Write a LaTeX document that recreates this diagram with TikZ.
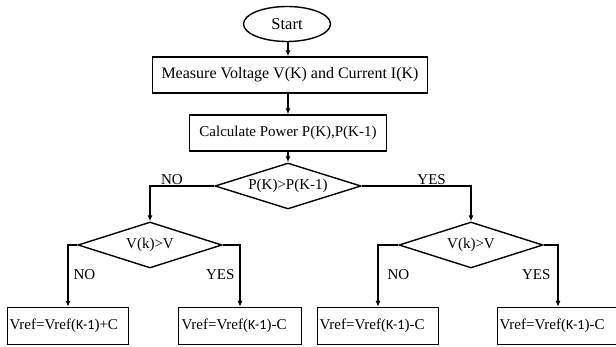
\documentclass[tikz,border=0pt]{standalone}
\usepackage{fontspec}
\setmainfont{Liberation Serif}
\newfontfamily\kfont{Carlito}
\usetikzlibrary{shapes.geometric,arrows.meta}

\newcommand{\km}{{\kfont\fontsize{14}{16}\selectfont K-1}}

\begin{document}
\begin{tikzpicture}[x=1pt,y=-1pt,
    every node/.style={font=\fontsize{15}{18}\selectfont},
    box/.style={draw,line width=1.4pt,inner sep=0pt,minimum height=36pt},
    outbox/.style={box,minimum width=121pt,minimum height=37pt,text width=117pt,inner xsep=2pt,align=left},
    dec/.style={draw,diamond,line width=1.4pt,inner sep=0pt,aspect=3.2,minimum width=144pt,minimum height=46pt},
    arr/.style={line width=1.1pt,-{Latex[length=6pt,width=5pt]}},
    lbl/.style={inner sep=1pt}]
\useasboundingbox (0,0) rectangle (616,347);

\node[draw,ellipse,line width=1.4pt,inner sep=0pt,minimum width=87pt,minimum height=35pt,font=\fontsize{16.5}{18}\selectfont] (start) at (287,24) {Start};
\node[box,minimum width=275pt,font=\fontsize{16}{18}\selectfont] (measure) at (290,75) {Measure Voltage V(K) and Current I(K)};
\node[box,minimum width=197pt] (calc) at (288,133) {Calculate Power P(K),P(K-1)};

\node[dec,minimum width=146pt] (dp) at (288,186) {P(K)>P(K-1)};
\node[dec] (dvl) at (150,245) {V(k)>V};
\node[dec] (dvr) at (471,245) {V(k)>V};

\node[outbox] (inc) at (68,326) {Vref=Vref(\km)+C};
\node[outbox,minimum width=123pt] (decl) at (240,326) {Vref=Vref(\km)-C};
\node[outbox] (decm) at (378,326) {Vref=Vref(\km)-C};
\node[outbox] (decr) at (558,326) {Vref=Vref(\km)-C};

\draw[arr] (start.south -| calc) -- (measure.north -| calc);
\draw[arr] (measure.south -| calc) -- (calc.north);
\draw[arr] (calc) -- (dp);

\draw[arr] (dp.west) -| node[lbl,pos=0.33,above] (no0) {NO} (dvl.north);
\draw[arr] (dp.east) -| node[lbl,pos=0.32,above] (yes0) {YES} (dvr.north);

% left test
\draw[arr] (dvl.west) -| node[lbl,pos=0.74,right,xshift=4pt] (no1) {NO} (inc.north);
\draw[arr] (dvl.east) -| node[lbl,pos=0.74,left,xshift=-4pt] (yes1) {YES} (decl.north);

% right test
\draw[arr] (dvr.west) -| node[lbl,pos=0.74,right,xshift=8pt] (no2) {NO} (decm.north);
\draw[arr] (dvr.east) -| node[lbl,pos=0.74,left,xshift=-6pt] (yes2) {YES} (decr.north);
\end{tikzpicture}
\end{document}
